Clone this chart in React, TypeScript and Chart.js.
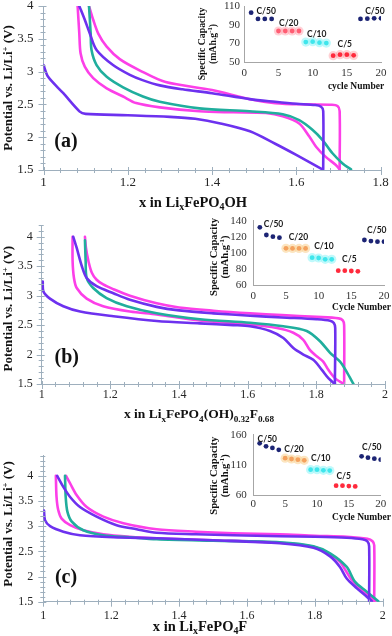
import React, { useEffect, useRef } from 'react';
import { Chart, registerables } from 'chart.js';

Chart.register(...registerables);

type Pt = [number, number];
type Seg = { t: string; s?: 'sub' | 'sup' };

// ---------------- Panel (a) : x in LixFePO4OH ----------------
const A_PURPLE_DISCHARGE: Pt[] = [[1.0, 3.10], [1.011, 2.92], [1.047, 2.67], [1.086, 2.39], [1.10, 2.355], [1.2, 2.335], [1.3, 2.31], [1.36, 2.28], [1.42, 2.21], [1.49, 2.09], [1.55, 1.90], [1.60, 1.73], [1.662, 1.51]];
const A_PURPLE_CHARGE: Pt[] = [[1.664, 1.51], [1.664, 2.40], [1.659, 2.465], [1.645, 2.49], [1.60, 2.51], [1.55, 2.54], [1.49, 2.58], [1.40, 2.67], [1.33, 2.73], [1.276, 2.79], [1.235, 2.87], [1.205, 2.95], [1.165, 3.10], [1.126, 3.33], [1.11, 3.58], [1.098, 3.79], [1.085, 4.0]];
const A_MAGENTA_DISCHARGE: Pt[] = [[1.081, 4.0], [1.085, 3.58], [1.088, 3.28], [1.098, 3.075], [1.118, 2.90], [1.15, 2.745], [1.189, 2.62], [1.22, 2.52], [1.276, 2.455], [1.37, 2.395], [1.45, 2.38], [1.528, 2.37], [1.568, 2.32], [1.607, 2.21], [1.631, 2.01], [1.647, 1.855], [1.67, 1.70], [1.694, 1.576], [1.703, 1.51]];
const A_MAGENTA_CHARGE: Pt[] = [[1.703, 1.51], [1.703, 2.40], [1.698, 2.475], [1.685, 2.495], [1.62, 2.50], [1.55, 2.52], [1.49, 2.58], [1.40, 2.72], [1.29, 2.84], [1.228, 3.02], [1.181, 3.19], [1.15, 3.38], [1.13, 3.58], [1.118, 3.79], [1.108, 4.0]];
const A_TEAL: Pt[] = [[1.108, 4.0], [1.112, 3.58], [1.114, 3.33], [1.126, 3.10], [1.15, 2.92], [1.189, 2.76], [1.236, 2.62], [1.276, 2.54], [1.37, 2.44], [1.489, 2.395], [1.568, 2.35], [1.607, 2.26], [1.639, 2.11], [1.662, 1.96], [1.686, 1.755], [1.71, 1.60], [1.73, 1.51]];

// ---------------- Panel (b) : x in LixFePO4(OH)0.32F0.68 ----------------
const B_PURPLE_DISCHARGE: Pt[] = [[1.003, 3.24], [1.005, 3.07], [1.024, 2.95], [1.063, 2.82], [1.112, 2.73], [1.209, 2.65], [1.335, 2.57], [1.46, 2.53], [1.558, 2.50], [1.607, 2.48], [1.665, 2.40], [1.704, 2.28], [1.733, 2.11], [1.762, 2.00], [1.791, 1.91], [1.816, 1.74], [1.835, 1.60], [1.854, 1.50]];
const B_PURPLE_CHARGE: Pt[] = [[1.854, 1.50], [1.855, 2.45], [1.851, 2.535], [1.84, 2.575], [1.80, 2.60], [1.70, 2.63], [1.607, 2.66], [1.50, 2.70], [1.40, 2.75], [1.335, 2.81], [1.257, 2.93], [1.209, 3.04], [1.16, 3.16], [1.131, 3.30], [1.117, 3.50], [1.102, 3.81], [1.092, 4.0]];
const B_MAGENTA_DISCHARGE: Pt[] = [[1.09, 4.0], [1.09, 3.59], [1.094, 3.30], [1.102, 3.13], [1.131, 2.95], [1.179, 2.82], [1.257, 2.73], [1.335, 2.68], [1.46, 2.58], [1.607, 2.51], [1.685, 2.45], [1.733, 2.37], [1.762, 2.25], [1.781, 2.08], [1.801, 1.97], [1.82, 1.88], [1.835, 1.74], [1.854, 1.60], [1.879, 1.50]];
const B_MAGENTA_CHARGE: Pt[] = [[1.881, 1.50], [1.881, 2.50], [1.877, 2.58], [1.865, 2.615], [1.80, 2.64], [1.70, 2.67], [1.607, 2.70], [1.50, 2.745], [1.40, 2.80], [1.335, 2.87], [1.257, 3.00], [1.209, 3.11], [1.179, 3.19], [1.16, 3.27], [1.146, 3.39], [1.136, 3.59], [1.129, 3.81], [1.126, 4.0]];
const B_TEAL: Pt[] = [[1.126, 3.94], [1.128, 3.59], [1.131, 3.30], [1.15, 3.13], [1.189, 2.96], [1.248, 2.82], [1.335, 2.70], [1.461, 2.60], [1.607, 2.54], [1.704, 2.48], [1.772, 2.40], [1.81, 2.23], [1.84, 2.03], [1.869, 1.88], [1.888, 1.71], [1.908, 1.50]];

// ---------------- Panel (c) : x in LixFePO4F ----------------
const C_PURPLE_DISCHARGE: Pt[] = [[1.002, 3.31], [1.005, 3.12], [1.02, 3.0], [1.059, 2.89], [1.108, 2.82], [1.206, 2.78], [1.334, 2.76], [1.5, 2.72], [1.697, 2.66], [1.796, 2.57], [1.845, 2.40], [1.874, 2.19], [1.894, 1.96], [1.923, 1.77], [1.953, 1.60], [1.968, 1.51]];
const C_PURPLE_CHARGE: Pt[] = [[1.96, 1.51], [1.96, 2.60], [1.955, 2.70], [1.94, 2.74], [1.894, 2.77], [1.80, 2.79], [1.697, 2.80], [1.56, 2.82], [1.45, 2.84], [1.334, 2.87], [1.275, 2.94], [1.216, 3.02], [1.157, 3.19], [1.108, 3.38], [1.079, 3.58], [1.059, 3.78], [1.041, 4.0]];
const C_MAGENTA_DISCHARGE: Pt[] = [[1.037, 4.0], [1.039, 3.58], [1.044, 3.32], [1.054, 3.15], [1.079, 3.02], [1.118, 2.92], [1.177, 2.84], [1.255, 2.79], [1.334, 2.76], [1.5, 2.72], [1.697, 2.67], [1.796, 2.59], [1.845, 2.44], [1.874, 2.29], [1.89, 2.13], [1.909, 1.93], [1.943, 1.70], [1.977, 1.51]];
const C_MAGENTA_CHARGE: Pt[] = [[1.975, 1.51], [1.975, 2.62], [1.97, 2.70], [1.955, 2.75], [1.894, 2.79], [1.80, 2.81], [1.697, 2.84], [1.56, 2.86], [1.45, 2.89], [1.334, 2.94], [1.236, 3.06], [1.177, 3.19], [1.128, 3.38], [1.098, 3.62], [1.079, 3.85], [1.067, 4.0]];
const C_TEAL: Pt[] = [[1.064, 4.0], [1.066, 3.58], [1.071, 3.29], [1.084, 3.09], [1.118, 2.92], [1.177, 2.82], [1.255, 2.78], [1.334, 2.74], [1.5, 2.71], [1.697, 2.68], [1.796, 2.60], [1.845, 2.46], [1.894, 2.19], [1.918, 1.90], [1.953, 1.70], [1.987, 1.51]];

// ---------------- Insets : specific capacity vs cycle ----------------
const CYCLE_NUMBERS = [1, 2, 3, 4, 5, 6, 7, 8, 9, 10, 11, 12, 13, 14, 15, 16, 17, 18, 19, 20];
const RATE_NAMES = ['C/50', 'C/20', 'C/10', 'C/5', 'C/50'];
const A_CAPACITY = [102.9, 96.1, 96.1, 96.1, 83.2, 83.2, 83.2, 83.2, 71.4, 71.8, 70.7, 70.3, 56.8, 57.8, 57.8, 57.1, 96.1, 96.4, 96.8, 96.8];
const B_CAPACITY = [131.8, 122.2, 120.1, 118.9, 105.6, 105.5, 105.5, 105.5, 94, 93.6, 92, 92, 77.8, 77.8, 77.4, 77, 116, 114.7, 113.9, 113.9];
const C_CAPACITY = [145.7, 140.8, 138, 135, 121, 119.7, 118.6, 117.5, 102, 102, 101, 100.5, 75.4, 75.4, 74.8, 74.3, 124.2, 121.9, 120.2, 118.6];
const A_RATE_LABEL_AT: Pt[] = [[3.2, 104], [6.5, 92], [10.6, 80], [14.7, 69], [19.1, 104]];
const B_RATE_LABEL_AT: Pt[] = [[3.1, 135.5], [6.9, 120], [10.8, 108.5], [14.7, 92], [18.9, 128.4]];
const C_RATE_LABEL_AT: Pt[] = [[2.2, 153], [6.4, 136], [10.6, 121], [14.2, 92], [18.6, 139]];

// ---------------- Tick labels ----------------
const MAIN_Y_TICKS = [1.5, 2, 2.5, 3, 3.5, 4];
const A_X_TICKS = [1, 1.2, 1.4, 1.6, 1.8];
const BC_X_TICKS = [1, 1.2, 1.4, 1.6, 1.8, 2];
const CYCLE_TICKS = [0, 5, 10, 15, 20];
const A_CAP_TICKS = [50, 70, 90, 110];
const B_CAP_TICKS = [60, 80, 100, 120, 140];
const C_CAP_TICKS = [60, 110, 160];

// ---------------- Styles ----------------
const SERIF = '"Liberation Serif", "DejaVu Serif", serif';
const SANS = 'Lato, "Liberation Sans", sans-serif';
const PURPLE = '#6d31ef';
const MAGENTA = '#fc3fe8';
const TEAL = '#20ae9d';
const AXIS_COLOR = '#9eafbd';
const INSET_AXIS = '#a6a6a6';
const X_MINOR = 0.04;
const Y_MINOR = 0.1;
const W = 392;
const H = 212;
const NAVY = '#1c2474';

const Y_TITLE: Seg[] = [{ t: 'Potential vs. Li/Li' }, { t: '+', s: 'sup' }, { t: ' (V)' }];

function drawRich(ctx: CanvasRenderingContext2D, segs: Seg[], cx: number, cy: number, size: number, o: { bold?: boolean; rotate?: boolean; family?: string; color?: string; align?: string } = {}) {
  const fam = o.family ?? SERIF;
  const font = (s?: string) => `${o.bold ? 'bold ' : ''}${s ? Math.round(size * 0.68 * 10) / 10 : size}px ${fam}`;
  ctx.save();
  ctx.translate(cx, cy);
  if (o.rotate) ctx.rotate(-Math.PI / 2);
  const widths = segs.map((seg) => { ctx.font = font(seg.s); return ctx.measureText(seg.t).width; });
  const total = widths.reduce((a, b) => a + b, 0);
  let x = o.align === 'right' ? -total : o.align === 'left' ? 0 : -total / 2;
  ctx.fillStyle = o.color ?? '#111';
  ctx.textAlign = 'left';
  ctx.textBaseline = 'alphabetic';
  const base = size * 0.34;
  segs.forEach((seg, i) => {
    ctx.font = font(seg.s);
    const dy = seg.s === 'sub' ? size * 0.24 : seg.s === 'sup' ? -size * 0.36 : 0;
    ctx.fillText(seg.t, x, base + dy);
    x += widths[i];
  });
  ctx.restore();
}

const isMajor = (v: number, ticks: number[]) => ticks.some((t) => Math.abs(t - v) < 1e-6);
const fmt = (v: number) => String(Math.round(v * 10) / 10);

interface InsetSpec {
  left: number; top: number; w: number; h: number;
  area: { left: number; right: number; top: number; bottom: number };
  yMin: number; yMax: number; yTicks: number[];
  capacity: number[]; labelAt: Pt[];
  colors: string[]; halos: (string | null)[];
  xPad: number; yPad: number;
  xTitle: string; xTitlePos: { x: number; y: number; size: number };
  yTitlePos: { x1: number; x2: number; y: number; size: number };
}

interface PanelSpec {
  top: number;
  curves: { pts: Pt[]; color: string }[];
  xMin: number; xMax: number; yMin: number; yMax: number; xTicks: number[];
  area: { left: number; right: number; top: number; bottom: number };
  tickSize: number; xPad: number; yPad: number;
  xTitleText: Seg[]; xTitle: { x: number; y: number; size: number };
  yTitle: { x: number; y: number; size: number };
  label: string; labelPos: { x: number; y: number; size: number };
  inset: InsetSpec;
}

const HALO20_A = 'rgba(255,150,165,0.45)';
const HALO20_BC = 'rgba(250,212,150,0.6)';
const HALO10 = 'rgba(150,245,248,0.6)';

const PANELS: PanelSpec[] = [
  {
    top: 0,
    curves: [
      { pts: A_PURPLE_DISCHARGE, color: PURPLE }, { pts: A_PURPLE_CHARGE, color: PURPLE },
      { pts: A_TEAL, color: TEAL },
      { pts: A_MAGENTA_DISCHARGE, color: MAGENTA }, { pts: A_MAGENTA_CHARGE, color: MAGENTA },
    ],
    xMin: 1, xMax: 1.8, yMin: 1.5, yMax: 4.0, xTicks: A_X_TICKS,
    area: { left: 43.5, right: 380.5, top: 6, bottom: 170 },
    tickSize: 13, xPad: 5.2, yPad: 10,
    xTitleText: [{ t: 'x in Li' }, { t: 'x', s: 'sub' }, { t: 'FePO' }, { t: '4', s: 'sub' }, { t: 'OH' }],
    xTitle: { x: 193, y: 202, size: 14.5 },
    yTitle: { x: 8, y: 88, size: 13 },
    label: '(a)', labelPos: { x: 66, y: 140, size: 20 },
    inset: {
      left: 190, top: 0, w: 202, h: 105,
      area: { left: 244.3, right: 381, top: 6, bottom: 62 },
      yMin: 50, yMax: 110, yTicks: A_CAP_TICKS,
      capacity: A_CAPACITY, labelAt: A_RATE_LABEL_AT,
      colors: [NAVY, '#ff5d73', '#3fe6ec', '#ff2a3c', NAVY],
      halos: [null, HALO20_A, HALO10, 'rgba(255,120,130,0.35)', null],
      xPad: 4.1, yPad: 4.3,
      xTitle: 'cycle Number', xTitlePos: { x: 356, y: 86, size: 9.5 },
      yTitlePos: { x1: 201.7, x2: 212.3, y: 44, size: 9.8 },
    },
  },
  {
    top: 212,
    curves: [
      { pts: B_PURPLE_DISCHARGE, color: PURPLE }, { pts: B_PURPLE_CHARGE, color: PURPLE },
      { pts: B_TEAL, color: TEAL },
      { pts: B_MAGENTA_DISCHARGE, color: MAGENTA }, { pts: B_MAGENTA_CHARGE, color: MAGENTA },
    ],
    xMin: 1, xMax: 2, yMin: 1.5, yMax: 4.2, xTicks: BC_X_TICKS,
    area: { left: 41.7, right: 385, top: 13, bottom: 172 },
    tickSize: 12, xPad: 3.8, yPad: 9,
    xTitleText: [{ t: 'x in Li' }, { t: 'x', s: 'sub' }, { t: 'FePO' }, { t: '4', s: 'sub' }, { t: '(OH)' }, { t: '0.32', s: 'sub' }, { t: 'F' }, { t: '0.68', s: 'sub' }],
    xTitle: { x: 199, y: 201.7, size: 13.5 },
    yTitle: { x: 8, y: 96.7, size: 13 },
    label: '(b)', labelPos: { x: 66.7, y: 143.7, size: 20 },
    inset: {
      left: 190, top: 0, w: 202, h: 105,
      area: { left: 253.3, right: 384, top: 8.7, bottom: 73 },
      yMin: 60, yMax: 140, yTicks: B_CAP_TICKS,
      capacity: B_CAPACITY, labelAt: B_RATE_LABEL_AT,
      colors: [NAVY, '#f4a25e', '#3fe6ec', '#ff2a3c', NAVY],
      halos: [null, HALO20_BC, HALO10, null, null],
      xPad: 4.4, yPad: 6.6,
      xTitle: 'Cycle Number', xTitlePos: { x: 361.5, y: 94.7, size: 9.5 },
      yTitlePos: { x1: 213.3, x2: 224, y: 45, size: 10.5 },
    },
  },
  {
    top: 424,
    curves: [
      { pts: C_PURPLE_DISCHARGE, color: PURPLE }, { pts: C_PURPLE_CHARGE, color: PURPLE },
      { pts: C_TEAL, color: TEAL },
      { pts: C_MAGENTA_DISCHARGE, color: MAGENTA }, { pts: C_MAGENTA_CHARGE, color: MAGENTA },
    ],
    xMin: 1, xMax: 2, yMin: 1.5, yMax: 4.4, xTicks: BC_X_TICKS,
    area: { left: 43.3, right: 382.7, top: 31.7, bottom: 177.7 },
    tickSize: 12, xPad: 6.8, yPad: 10,
    xTitleText: [{ t: 'x in Li' }, { t: 'x', s: 'sub' }, { t: 'FePO' }, { t: '4', s: 'sub' }, { t: 'F' }],
    xTitle: { x: 200, y: 202, size: 14.5 },
    yTitle: { x: 8, y: 100, size: 13 },
    label: '(c)', labelPos: { x: 66, y: 151.7, size: 20 },
    inset: {
      left: 190, top: 0, w: 202, h: 105,
      area: { left: 253.3, right: 380.7, top: 10.7, bottom: 71 },
      yMin: 60, yMax: 160, yTicks: C_CAP_TICKS,
      capacity: C_CAPACITY, labelAt: C_RATE_LABEL_AT,
      colors: [NAVY, '#f4a25e', '#3fe6ec', '#ff2a3c', NAVY],
      halos: [null, HALO20_BC, HALO10, null, null],
      xPad: 2.4, yPad: 6.6,
      xTitle: 'Cycle Number', xTitlePos: { x: 361.5, y: 92.3, size: 9.5 },
      yTitlePos: { x1: 213.3, x2: 224, y: 51.7, size: 10.5 },
    },
  },
];

function mainConfig(p: PanelSpec): any {
  const decor = {
    id: 'decor',
    afterDraw(chart: any) {
      const ctx: CanvasRenderingContext2D = chart.ctx;
      const xs = chart.scales.x;
      const ys = chart.scales.y;
      const { left, bottom } = chart.chartArea;
      ctx.save();
      ctx.strokeStyle = AXIS_COLOR;
      ctx.lineWidth = 1;
      ctx.beginPath();
      const nx = Math.round((p.xMax - p.xMin) / X_MINOR);
      for (let i = 0; i <= nx; i++) {
        const v = p.xMin + i * X_MINOR;
        const px = Math.round(xs.getPixelForValue(v)) + 0.5;
        const major = isMajor(v, p.xTicks);
        ctx.moveTo(px, bottom - (major ? 3 : 2));
        ctx.lineTo(px, bottom + (major ? 5 : 3));
      }
      const ny = Math.round((p.yMax - p.yMin) / Y_MINOR);
      for (let i = 0; i <= ny; i++) {
        const v = p.yMin + i * Y_MINOR;
        const py = Math.round(ys.getPixelForValue(v)) + 0.5;
        const major = isMajor(v, MAIN_Y_TICKS);
        ctx.moveTo(left - (major ? 5 : 3), py);
        ctx.lineTo(left + (major ? 3 : 2), py);
      }
      ctx.stroke();
      ctx.restore();
      drawRich(ctx, Y_TITLE, p.yTitle.x, p.yTitle.y, p.yTitle.size, { bold: true, rotate: true });
      drawRich(ctx, p.xTitleText, p.xTitle.x, p.xTitle.y, p.xTitle.size, { bold: true });
      drawRich(ctx, [{ t: p.label }], p.labelPos.x, p.labelPos.y, p.labelPos.size, { bold: true });
    },
  };
  return {
    type: 'scatter',
    data: {
      datasets: p.curves.map((c) => ({
        data: c.pts.map(([x, y]) => ({ x, y })),
        showLine: true,
        borderColor: c.color,
        backgroundColor: c.color,
        borderWidth: 2.6,
        pointRadius: 0,
        tension: 0.3,
        fill: false,
        borderCapStyle: 'round',
        borderJoinStyle: 'round',
      })),
    },
    options: {
      animation: false,
      responsive: false,
      devicePixelRatio: 1,
      layout: { autoPadding: false, padding: { left: 0, top: p.area.top, right: W - p.area.right, bottom: 0 } },
      plugins: { legend: { display: false }, tooltip: { enabled: false }, title: { display: false } },
      scales: {
        x: {
          type: 'linear', min: p.xMin, max: p.xMax,
          afterBuildTicks: (s: any) => { s.ticks = p.xTicks.map((v) => ({ value: v })); },
          afterFit: (s: any) => { s.height = H - p.area.bottom; s.paddingLeft = 0; s.paddingRight = 0; },
          grid: { display: false, drawTicks: false },
          border: { display: true, color: AXIS_COLOR, width: 1 },
          ticks: { padding: p.xPad, autoSkip: false, maxRotation: 0, color: '#262626', font: { family: SERIF, size: p.tickSize }, callback: (v: number) => fmt(v) },
        },
        y: {
          type: 'linear', min: p.yMin, max: p.yMax,
          afterBuildTicks: (s: any) => { s.ticks = MAIN_Y_TICKS.map((v) => ({ value: v })); },
          afterFit: (s: any) => { s.width = p.area.left; s.paddingTop = 0; s.paddingBottom = 0; },
          grid: { display: false, drawTicks: false },
          border: { display: true, color: AXIS_COLOR, width: 1 },
          ticks: { padding: p.yPad, autoSkip: false, color: '#262626', font: { family: SERIF, size: p.tickSize }, callback: (v: number) => fmt(v) },
        },
      },
    },
    plugins: [decor],
  };
}

function insetConfig(p: PanelSpec): any {
  const s = p.inset;
  const groupOf = (k: number) => Math.floor(k / 4);
  const dots = RATE_NAMES.map((_, g) => ({
    data: CYCLE_NUMBERS.filter((_c, k) => groupOf(k) === g).map((c) => ({ x: c, y: s.capacity[c - 1] })),
    backgroundColor: s.colors[g],
    borderColor: s.colors[g],
    pointRadius: 2.4,
    pointBorderWidth: 0,
    showLine: false,
  }));
  const halos = RATE_NAMES.map((_, g) => ({
    data: s.halos[g] ? CYCLE_NUMBERS.filter((_c, k) => groupOf(k) === g).map((c) => ({ x: c, y: s.capacity[c - 1] })) : [],
    backgroundColor: s.halos[g] ?? 'rgba(0,0,0,0)',
    borderColor: 'rgba(0,0,0,0)',
    pointRadius: 4.6,
    pointBorderWidth: 0,
    showLine: false,
  }));
  const ox = s.left;
  const oy = s.top;
  const decor = {
    id: 'insetDecor',
    afterDraw(chart: any) {
      const ctx: CanvasRenderingContext2D = chart.ctx;
      const xs = chart.scales.x;
      const ys = chart.scales.y;
      RATE_NAMES.forEach((name, g) => {
        const [lx, ly] = s.labelAt[g];
        drawRich(ctx, [{ t: name }], xs.getPixelForValue(lx), ys.getPixelForValue(ly), 8.5, { bold: true, family: SANS, color: '#1a1a1a' });
      });
      drawRich(ctx, [{ t: s.xTitle }], s.xTitlePos.x - ox, s.xTitlePos.y - oy, s.xTitlePos.size, { bold: true });
      drawRich(ctx, [{ t: 'Specific Capacity' }], s.yTitlePos.x1 - ox, s.yTitlePos.y - oy, s.yTitlePos.size, { bold: true, rotate: true });
      drawRich(ctx, [{ t: '(mAh.g' }, { t: '-1', s: 'sup' }, { t: ')' }], s.yTitlePos.x2 - ox, s.yTitlePos.y - oy, s.yTitlePos.size, { bold: true, rotate: true });
    },
  };
  return {
    type: 'scatter',
    data: { datasets: [...dots, ...halos] },
    options: {
      animation: false,
      responsive: false,
      devicePixelRatio: 1,
      layout: { autoPadding: false, padding: { left: 0, top: s.area.top - oy, right: s.w - (s.area.right - ox), bottom: 0 } },
      plugins: { legend: { display: false }, tooltip: { enabled: false } },
      scales: {
        x: {
          type: 'linear', min: 0, max: 20,
          afterBuildTicks: (sc: any) => { sc.ticks = CYCLE_TICKS.map((v) => ({ value: v })); },
          afterFit: (sc: any) => { sc.height = s.h - (s.area.bottom - oy); sc.paddingLeft = 0; sc.paddingRight = 0; },
          grid: { display: false, drawTicks: false },
          border: { display: true, color: INSET_AXIS, width: 1 },
          ticks: { padding: s.xPad, autoSkip: false, maxRotation: 0, color: '#333', font: { family: SERIF, size: 11 } },
        },
        y: {
          type: 'linear', min: s.yMin, max: s.yMax,
          afterBuildTicks: (sc: any) => { sc.ticks = s.yTicks.map((v) => ({ value: v })); },
          afterFit: (sc: any) => { sc.width = s.area.left - ox; sc.paddingTop = 0; sc.paddingBottom = 0; },
          grid: { display: false, drawTicks: false },
          border: { display: true, color: INSET_AXIS, width: 1 },
          ticks: { padding: s.yPad, autoSkip: false, color: '#333', font: { family: SERIF, size: 11 } },
        },
      },
    },
    plugins: [decor],
  };
}

function Panel({ spec }: { spec: PanelSpec }) {
  const mainRef = useRef<HTMLCanvasElement>(null);
  const insetRef = useRef<HTMLCanvasElement>(null);
  useEffect(() => {
    const main = new Chart(mainRef.current as HTMLCanvasElement, mainConfig(spec));
    const inset = new Chart(insetRef.current as HTMLCanvasElement, insetConfig(spec));
    return () => {
      main.destroy();
      inset.destroy();
    };
  }, [spec]);
  const s = spec.inset;
  return (
    <div style={{ position: 'absolute', left: 0, top: spec.top, width: W, height: H }}>
      <canvas ref={mainRef} width={W} height={H} style={{ position: 'absolute', left: 0, top: 0, width: W, height: H }} />
      <canvas ref={insetRef} width={s.w} height={s.h} style={{ position: 'absolute', left: s.left, top: s.top, width: s.w, height: s.h }} />
    </div>
  );
}

export default function App() {
  return (
    <div style={{ position: 'absolute', left: 0, top: 0, width: W, height: 636, background: '#ffffff', overflow: 'hidden' }}>
      {PANELS.map((p, i) => (
        <Panel key={i} spec={p} />
      ))}
    </div>
  );
}
